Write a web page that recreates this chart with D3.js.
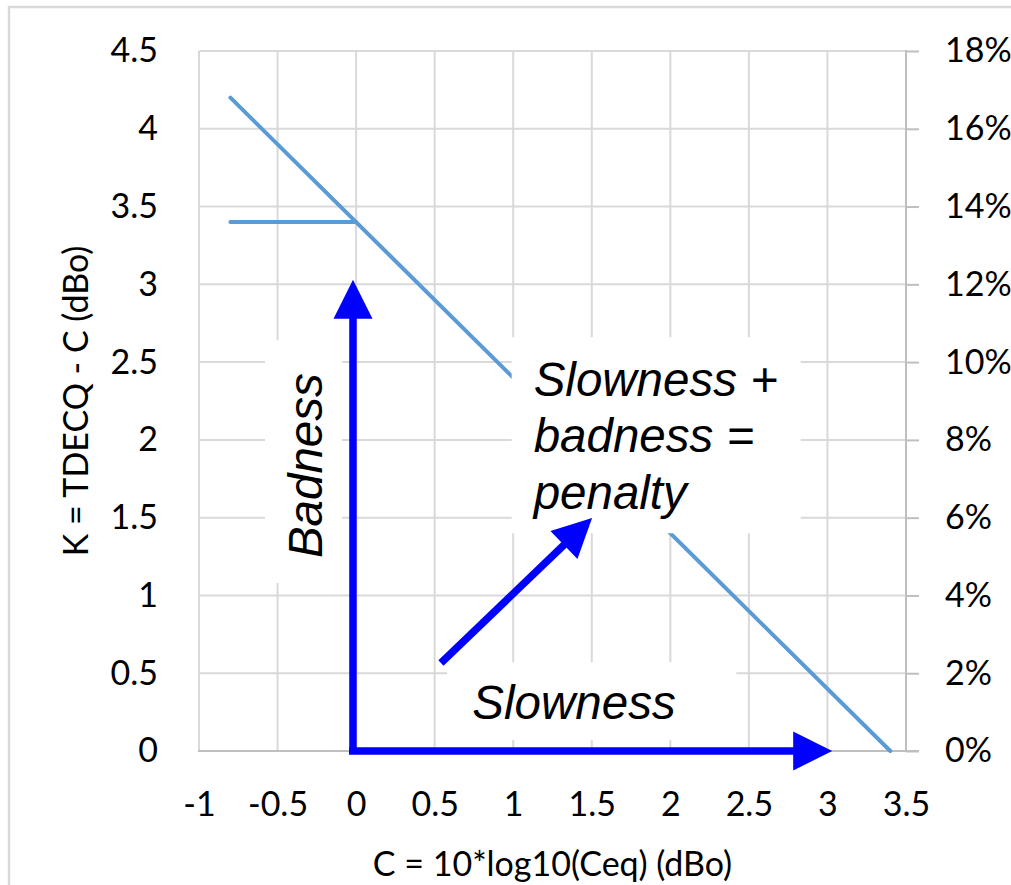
<!DOCTYPE html>
<html>
<head>
<meta charset="utf-8">
<script src="https://cdn.jsdelivr.net/npm/d3@7/dist/d3.min.js"></script>
<style>
  body { margin: 0; background: #fff; }
  .axis text, text.title { font-family: Lato, "Open Sans", sans-serif; font-size: 34px; fill: #000; }
  .note { font-family: "Liberation Sans", Arial, sans-serif; font-style: italic; font-size: 47.5px; fill: #000; }
</style>
</head>
<body>
<div id="chart"></div>
<script>
// values
var xTicks = [-1, -0.5, 0, 0.5, 1, 1.5, 2, 2.5, 3, 3.5];
var yTicks = [0, 0.5, 1, 1.5, 2, 2.5, 3, 3.5, 4, 4.5];
var pctTicks = [0, 0.02, 0.04, 0.06, 0.08, 0.10, 0.12, 0.14, 0.16, 0.18];

// K = TDECQ - C, the sloped line and the flat part
var slopeC = [-0.8, 3.4];
var slopeK = [4.2, 0];
var flatC = [-0.8, 0];
var flatK = [3.4, 3.4];

// annotation boxes (white background), in data units [c0, k0, c1, k1]
var noteBoxes = [
  [-0.58, 2.64, -0.09, 1.08],
  [0.99, 2.66, 2.83, 1.40],
  [0.58, 0.57, 2.42, 0.07]
];

// arrows: [fromC, fromK, toC, toK]
var arrows = [
  [-0.02, -0.02, -0.02, 3.03],
  [-0.045, 0, 3.03, 0],
  [0.54, 0.566, 1.502, 1.498]
];

var W = 1011, H = 885;

var svg = d3.select("#chart").append("svg")
    .attr("width", W)
    .attr("height", H);

// outer frame of the chart object
svg.append("rect")
    .attr("x", 9).attr("y", 7)
    .attr("width", 1100).attr("height", 1000)
    .attr("fill", "none")
    .attr("stroke", "#d9d9d9")
    .attr("stroke-width", 2.5);

var x = d3.scaleLinear().domain([-1, 3.5]).range([199, 906]);
var y = d3.scaleLinear().domain([0, 4.5]).range([751, 51]);
var yR = d3.scaleLinear().domain([0, 0.18]).range([751, 51]);

// grid
var grid = svg.append("g").attr("class", "grid");
grid.selectAll("line.v")
    .data(xTicks.slice(0, -1))
  .enter().append("line")
    .attr("class", "v")
    .attr("x1", function(d){ return x(d); })
    .attr("x2", function(d){ return x(d); })
    .attr("y1", y(4.5)).attr("y2", y(0))
    .attr("stroke", "#d9d9d9").attr("stroke-width", 2);
grid.selectAll("line.h")
    .data(yTicks.slice(1))
  .enter().append("line")
    .attr("class", "h")
    .attr("x1", x(-1)).attr("x2", x(3.5))
    .attr("y1", function(d){ return y(d); })
    .attr("y2", function(d){ return y(d); })
    .attr("stroke", "#d9d9d9").attr("stroke-width", 2);

// axes
var fmt = function(d){ return String(d); };

var gL = svg.append("g").attr("class", "axis")
    .attr("transform", "translate(" + x(-1) + ",0)")
    .call(d3.axisLeft(y).tickValues(yTicks).tickFormat(fmt).tickSize(0).tickPadding(41));
gL.select(".domain").remove();

var gB = svg.append("g").attr("class", "axis")
    .attr("transform", "translate(0," + y(0) + ")")
    .call(d3.axisBottom(x).tickValues(xTicks).tickFormat(fmt).tickSize(0).tickPadding(41));
gB.select(".domain").remove();

var gR = svg.append("g").attr("class", "axis")
    .attr("transform", "translate(" + x(3.5) + ",0)")
    .call(d3.axisRight(yR).tickValues(pctTicks).tickFormat(d3.format(".0%")).tickSize(13).tickPadding(26));
gR.select(".domain").remove();
gR.selectAll("line").attr("stroke", "#bfbfbf").attr("stroke-width", 2);

// axis lines
svg.append("line")
    .attr("x1", x(-1) - 1).attr("x2", x(3.5) + 13)
    .attr("y1", y(0)).attr("y2", y(0))
    .attr("stroke", "#bfbfbf").attr("stroke-width", 2);
svg.append("line")
    .attr("x1", x(3.5)).attr("x2", x(3.5))
    .attr("y1", y(4.5) - 1).attr("y2", y(0))
    .attr("stroke", "#bfbfbf").attr("stroke-width", 2);

// axis titles
svg.append("text").attr("class", "title")
    .attr("x", (x(-1) + x(3.5)) / 2).attr("y", 876)
    .attr("text-anchor", "middle")
    .text("C = 10*log10(Ceq) (dBo)");
svg.append("text").attr("class", "title")
    .attr("transform", "translate(88," + (y(2.25)) + ") rotate(-90)")
    .attr("text-anchor", "middle")
    .text("K = TDECQ - C (dBo)");

// series
var line = d3.line()
    .x(function(d){ return x(d[0]); })
    .y(function(d){ return y(d[1]); });

[[slopeC, slopeK], [flatC, flatK]].forEach(function(s){
  svg.append("path")
      .datum(d3.zip(s[0], s[1]))
      .attr("d", line)
      .attr("fill", "none")
      .attr("stroke", "#5b9bd5")
      .attr("stroke-width", 4)
      .attr("stroke-linecap", "round");
});

// white boxes under the notes
svg.selectAll("rect.note-bg")
    .data(noteBoxes)
  .enter().append("rect")
    .attr("class", "note-bg")
    .attr("x", function(d){ return x(d[0]); })
    .attr("y", function(d){ return y(d[1]); })
    .attr("width", function(d){ return x(d[2]) - x(d[0]); })
    .attr("height", function(d){ return y(d[3]) - y(d[1]); })
    .attr("fill", "#fff");

// notes
svg.append("text").attr("class", "note")
    .attr("transform", "translate(" + x(-0.217) + "," + y(1.24) + ") rotate(-90)")
    .text("Badness");

var multi = svg.append("text").attr("class", "note")
    .attr("x", x(1.13)).attr("y", y(2.285));
["Slowness +", "badness =", "penalty"].forEach(function(t, i){
  multi.append("tspan")
      .attr("x", x(1.13))
      .attr("dy", i == 0 ? 0 : 56.5)
      .text(t);
});

svg.append("text").attr("class", "note")
    .attr("x", x(0.74)).attr("y", y(0.205))
    .text("Slowness");

// arrows
var head = 39;
arrows.forEach(function(a){
  var x0 = x(a[0]), y0 = y(a[1]), x1 = x(a[2]), y1 = y(a[3]);
  var dx = x1 - x0, dy = y1 - y0, len = Math.sqrt(dx*dx + dy*dy);
  var ux = dx / len, uy = dy / len;
  var bx = x1 - ux * head, by = y1 - uy * head;
  svg.append("line")
      .attr("x1", x0).attr("y1", y0)
      .attr("x2", bx + ux).attr("y2", by + uy)
      .attr("stroke", "#0000ff")
      .attr("stroke-width", 7.5);
  svg.append("path")
      .attr("d", "M" + x1 + "," + y1 +
                 "L" + (bx - uy * head / 2) + "," + (by + ux * head / 2) +
                 "L" + (bx + uy * head / 2) + "," + (by - ux * head / 2) + "Z")
      .attr("fill", "#0000ff");
});
</script>
</body>
</html>
